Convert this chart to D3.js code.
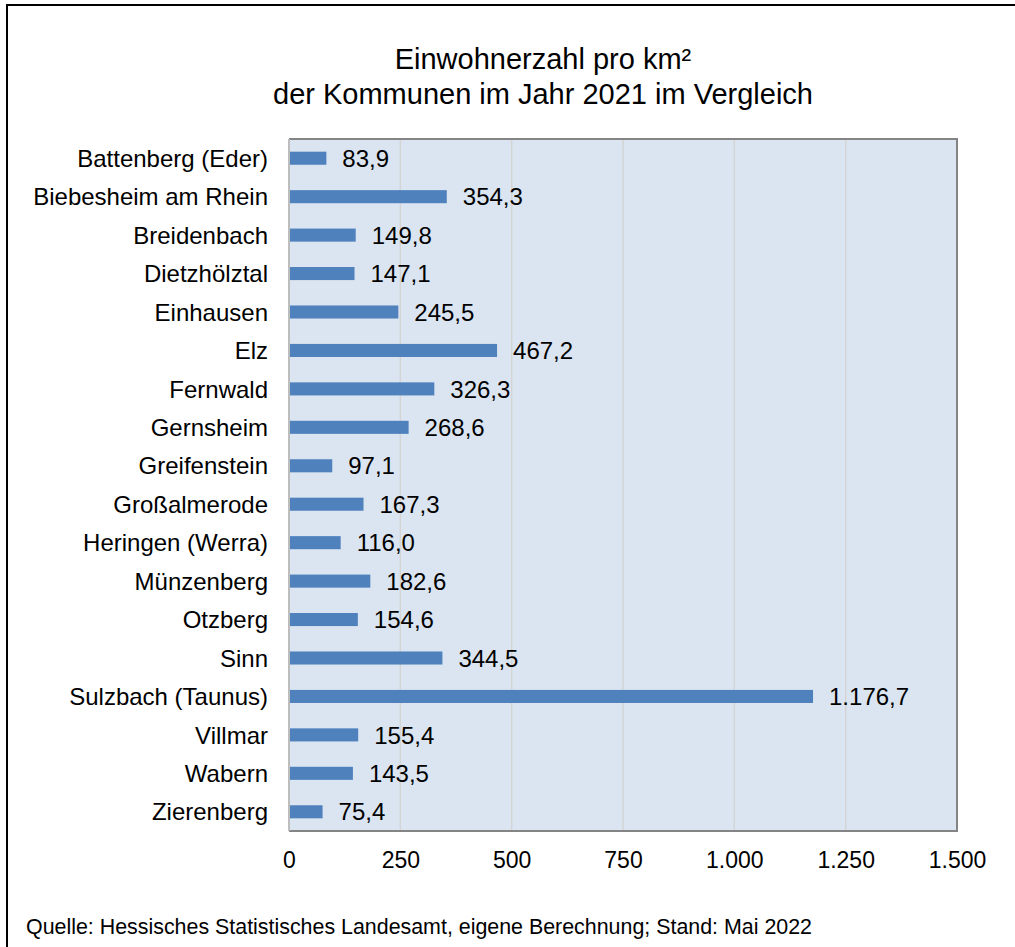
<!DOCTYPE html>
<html>
<head>
<meta charset="utf-8">
<script src="https://cdn.jsdelivr.net/npm/d3@7"></script>
<style>
  body { margin: 0; background: #fff; }
  text { font-family: "Liberation Sans", Arial, sans-serif; fill: #000; }
</style>
</head>
<body>
<svg id="chart"></svg>
<script>
var kommunen = ["Battenberg (Eder)", "Biebesheim am Rhein", "Breidenbach", "Dietzhölztal",
  "Einhausen", "Elz", "Fernwald", "Gernsheim", "Greifenstein", "Großalmerode",
  "Heringen (Werra)", "Münzenberg", "Otzberg", "Sinn", "Sulzbach (Taunus)",
  "Villmar", "Wabern", "Zierenberg"];
var dichte = [83.9, 354.3, 149.8, 147.1, 245.5, 467.2, 326.3, 268.6, 97.1, 167.3,
  116.0, 182.6, 154.6, 344.5, 1176.7, 155.4, 143.5, 75.4];
var xTicks = [0, 250, 500, 750, 1000, 1250, 1500];
var titel = ["Einwohnerzahl pro km²", "der Kommunen im Jahr 2021 im Vergleich"];
var quelle = "Quelle: Hessisches Statistisches Landesamt, eigene Berechnung; Stand: Mai 2022";

var width = 1015, height = 947;
var pLeft = 289, pRight = 957, pTop = 139, pBottom = 831;

var de = d3.formatLocale({decimal: ",", thousands: ".", grouping: [3], currency: ["", "€"]});
var fmtVal = de.format(",.1f");
var fmtTick = de.format(",d");

var svg = d3.select("#chart")
    .attr("width", width)
    .attr("height", height);

// outer frame
svg.append("rect")
    .attr("x", 7).attr("y", 5)
    .attr("width", 1030).attr("height", 960)
    .attr("fill", "none")
    .attr("stroke", "#000")
    .attr("stroke-width", 2);

svg.selectAll(".titel")
    .data(titel)
    .enter().append("text")
    .attr("class", "titel")
    .attr("x", 543)
    .attr("y", function(d, i) { return 69 + i * 35; })
    .attr("text-anchor", "middle")
    .style("font-size", "29px")
    .text(function(d) { return d; });

var x = d3.scaleLinear().domain([0, 1500]).range([pLeft, pRight]);
var y = d3.scaleBand().domain(kommunen).range([pTop, pBottom]).paddingInner(0.66).paddingOuter(0.33);

svg.append("rect")
    .attr("x", pLeft).attr("y", pTop)
    .attr("width", pRight - pLeft).attr("height", pBottom - pTop)
    .attr("fill", "#dbe5f1");

// grid
svg.append("g")
    .selectAll("line")
    .data(xTicks.slice(1, -1))
    .enter().append("line")
    .attr("x1", function(d) { return x(d); })
    .attr("x2", function(d) { return x(d); })
    .attr("y1", pTop).attr("y2", pBottom)
    .attr("stroke", "#d4d4d4")
    .attr("stroke-width", 1.5);

// frame of plot area
svg.append("path")
    .attr("d", "M" + pLeft + "," + pTop + "H" + pRight + "V" + pBottom + "H" + pLeft)
    .attr("fill", "none")
    .attr("stroke", "#848484")
    .attr("stroke-width", 2);
svg.append("line")
    .attr("x1", pLeft).attr("x2", pLeft)
    .attr("y1", pTop).attr("y2", pBottom)
    .attr("stroke", "#bdbdbd")
    .attr("stroke-width", 2);

svg.selectAll(".bar")
    .data(dichte)
    .enter().append("rect")
    .attr("class", "bar")
    .attr("x", x(0) + 1)
    .attr("y", function(d, i) { return y(kommunen[i]); })
    .attr("width", function(d) { return x(d) - x(0) - 1; })
    .attr("height", y.bandwidth())
    .attr("fill", "#4f81bd");

svg.selectAll(".wert")
    .data(dichte)
    .enter().append("text")
    .attr("class", "wert")
    .attr("x", function(d) { return x(d) + 16; })
    .attr("y", function(d, i) { return y(kommunen[i]) + y.bandwidth() / 2; })
    .attr("dy", "0.36em")
    .style("font-size", "24px")
    .text(function(d) { return fmtVal(d); });

var yAxis = svg.append("g")
    .attr("transform", "translate(" + (pLeft - 21) + ",0)")
    .call(d3.axisLeft(y).tickSize(0).tickPadding(0));
yAxis.select(".domain").remove();
yAxis.selectAll("text")
    .attr("dy", "0.36em")
    .style("font-size", "24px")
    .style("font-family", "'Liberation Sans', Arial, sans-serif")
    .attr("fill", "#000");

var xAxis = svg.append("g")
    .attr("transform", "translate(0," + pBottom + ")")
    .call(d3.axisBottom(x).tickValues(xTicks).tickFormat(fmtTick).tickSize(0).tickPadding(21));
xAxis.select(".domain").remove();
xAxis.selectAll("text")
    .style("font-size", "23px")
    .style("font-family", "'Liberation Sans', Arial, sans-serif")
    .attr("fill", "#000");

svg.append("text")
    .attr("x", 26)
    .attr("y", 934)
    .style("font-size", "21.4px")
    .text(quelle);
</script>
</body>
</html>
